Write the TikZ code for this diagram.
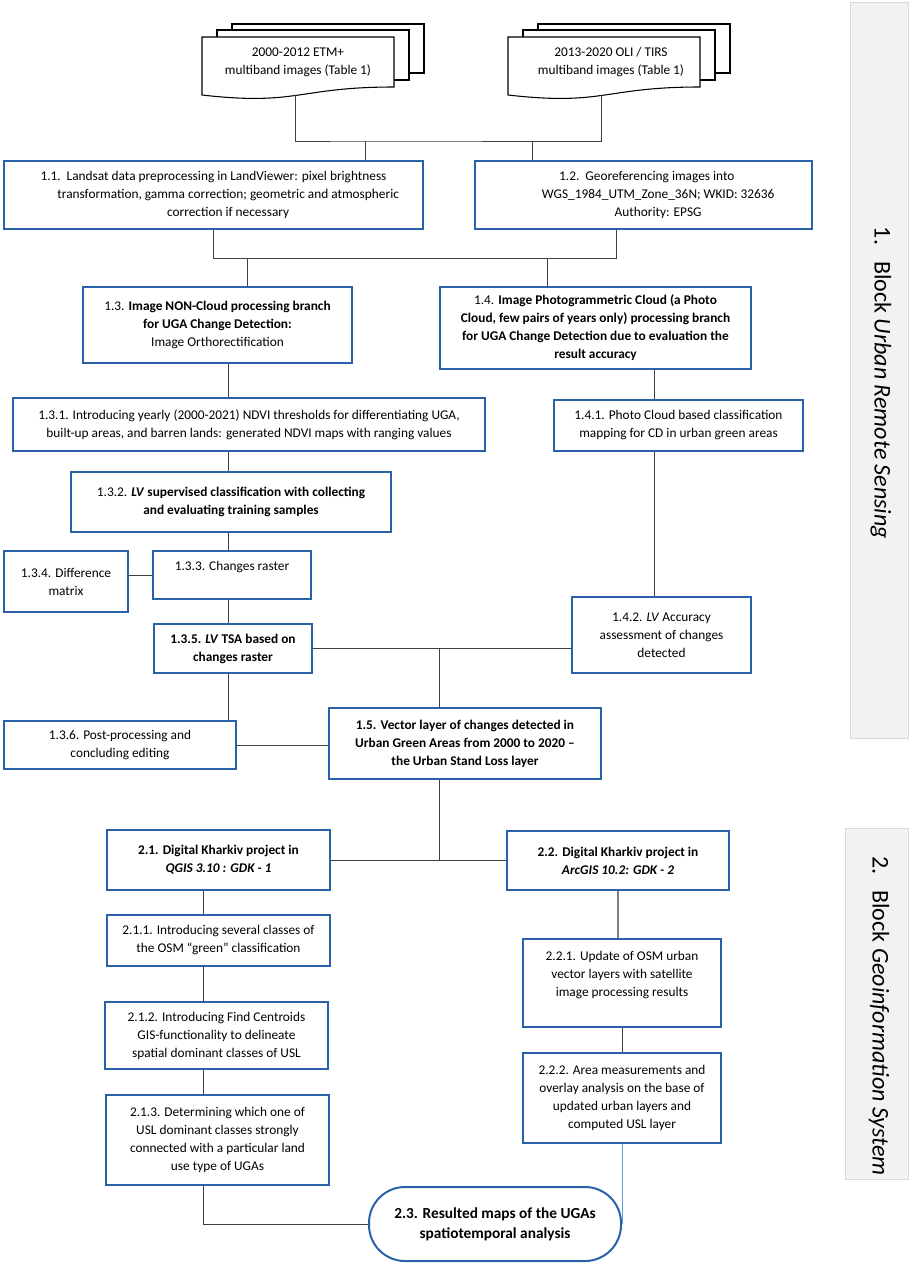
\documentclass[tikz,border=0pt]{standalone}
\usepackage{fontspec}
\setmainfont{Carlito}
\definecolor{boxblue}{RGB}{41,98,168}
\definecolor{linegray}{RGB}{64,64,64}
\definecolor{midgray}{RGB}{127,127,127}
\definecolor{lightblue}{RGB}{91,155,213}

\begin{document}
\begin{tikzpicture}[x=0.75pt,y=-0.75pt,
font=\fontsize{10}{13.5}\selectfont,
blk/.style 2 args={
	rectangle,draw=boxblue,line width=1.5pt,fill=white,
	align=center,inner sep=1pt,
	minimum width=#1*0.75pt,minimum height=#2*0.75pt},
term/.style={
	rectangle,rounded corners=27pt,draw=boxblue,line width=1.5pt,fill=white,
	align=center,minimum width=252*0.75pt,minimum height=74*0.75pt,
	font=\fontsize{11.5}{15}\selectfont\bfseries},
link/.style={draw=linegray,line width=0.75pt},
sheet/.style={draw=black,line width=0.8pt,fill=white},
doctext/.style={align=center},
panel/.style={draw=black!15,fill=black!5,line width=0.75pt},
paneltext/.style={rotate=-90,font=\fontsize{18}{20}\selectfont},
multidoc/.pic={
	\draw[sheet] (30,-13) rectangle (222,36);
	\draw[sheet] (15,-7) rectangle (207,43);
	\draw[sheet] (0,0) -- (192,0) -- (192,50) .. controls (96,50) and (96,69) .. (0,58) -- cycle;
	\coordinate (-out) at (93,58);
},
]
\useasboundingbox (0,0) rectangle (913,1263);

% side blocks
\draw[panel] (850,3) rectangle (908,738);
\draw[panel] (845,828) rectangle (908,1179);
\node[paneltext] (lab1) at (881,383) {1.\hspace{12pt}Block \textit{Urban Remote Sensing}};
\node[paneltext] (lab2) at (879,1016) {2.\hspace{12pt}Block \textit{Geoinformation System}};

% input images
\pic (img1) at (202,37) {multidoc};
\pic (img2) at (508,37) {multidoc};
\node[doctext] (doc1) at (298,62) {2000-2012 ETM+\\multiband images (Table 1)};
\node[doctext] (doc2) at (611,62) {2013-2020 OLI / TIRS\\multiband images (Table 1)};

% block 1
\node[blk={419}{68}] (b11) at (213.5,195) {1.1.\hspace{4.5pt}Landsat data preprocessing in LandViewer: pixel brightness\\
\hspace*{22pt}transformation, gamma correction; geometric and atmospheric\\
\hspace*{22pt}correction if necessary};
\node[blk={337}{68}] (b12) at (643.5,195) {\hspace*{5pt}1.2.\hspace{4.5pt}Georeferencing images into\\
\hspace*{22pt}WGS\_1984\_UTM\_Zone\_36N; WKID: 32636\\
\hspace*{22pt}Authority: EPSG};
\node[blk={269}{76}] (b13) at (217.5,325) {1.3. \textbf{Image NON-Cloud processing branch}\\
\textbf{for UGA Change Detection:}\\Image Orthorectification};
\node[blk={311}{82}] (b14) at (595.5,328) {1.4. \textbf{Image Photogrammetric Cloud (a Photo}\\
\textbf{Cloud, few pairs of years only) processing branch}\\
\textbf{for UGA Change Detection due to evaluation the}\\
\textbf{result accuracy}};
\node[blk={472}{53}] (b131) at (249,424.5) {1.3.1. Introducing yearly (2000-2021) NDVI thresholds for differentiating UGA,\\
built-up areas, and barren lands: generated NDVI maps with ranging values};
\node[blk={249}{51}] (b141) at (678.5,425.5) {1.4.1. Photo Cloud based classification\\mapping for CD in urban green areas};
\node[blk={320}{60}] (b132) at (231,502) {1.3.2. \textbf{\textit{LV} supervised classification with collecting}\\
\textbf{and evaluating training samples}};
\node[blk={158}{48}] (b133) at (232,575) {1.3.3. Changes raster\\\mbox{}};
\node[blk={124}{61}] (b134) at (66,581.5) {1.3.4. Difference\\matrix};
\node[blk={158}{49}] (b135) at (233,648.5) {\textbf{1.3.5. \textit{LV} TSA based on}\\\textbf{changes raster}};
\node[blk={179}{76}] (b142) at (661.5,635) {1.4.2. \textit{LV} Accuracy\\assessment of changes\\detected};
\node[blk={232}{48}] (b136) at (120,745) {1.3.6. Post-processing and\\concluding editing};
\node[blk={272}{71}] (b15) at (465,743.5) {\textbf{1.5. Vector layer of changes detected in}\\
\textbf{Urban Green Areas from 2000 to 2020 --}\\\textbf{the Urban Stand Loss layer}};

% block 2
\node[blk={223}{60}] (b21) at (218.5,860) {\textbf{2.1. Digital Kharkiv project in}\\\textbf{\textit{QGIS 3.10 : GDK - 1}}};
\node[blk={222}{59}] (b22) at (618,860.5) {\textbf{2.2. Digital Kharkiv project in}\\\textbf{\textit{ArcGIS 10.2: GDK - 2}}};
\node[blk={223}{51}] (b211) at (218.5,940.5) {2.1.1. Introducing several classes of\\the OSM “green” classification};
\node[blk={223}{67}] (b212) at (216.5,1035.5) {2.1.2. Introducing Find Centroids\\GIS-functionality to delineate\\spatial dominant classes of USL};
\node[blk={223}{90}] (b213) at (217.5,1140) {2.1.3. Determining which one of\\USL dominant classes strongly\\connected with a particular land\\use type of UGAs};
\node[blk={198}{88}] (b221) at (622,983) {2.2.1. Update of OSM urban\\vector layers with satellite\\image processing results\\\mbox{}};
\node[blk={198}{90}] (b222) at (622,1098) {2.2.2. Area measurements and\\overlay analysis on the base of\\updated urban layers and\\computed USL layer};
\node[term] (t23) at (495,1224) {2.3. Resulted maps of the UGAs\\spatiotemporal analysis};

% joints
\coordinate (colA) at (228,0);
\coordinate (colB) at (439,0);
\coordinate (colC) at (654,0);
\coordinate (colD) at (203,0);
\coordinate (j1a) at (365,141);
\coordinate (j1b) at (532,141);
\coordinate (j2b) at (616,258);
\coordinate (j2c) at (247,258);
\coordinate (j2d) at (547,258);

% connectors
\draw[link] (img1-out) |- (j1a) -- (j1a -| img2-out) -- (img2-out);
\draw[link] (j1a) -- (j1a |- b11.north);
\draw[link] (j1b) -- (j1b |- b12.north);
\draw[link] (b11.south) |- (j2b) -- (j2b |- b12.south);
\draw[link] (j2c) -- (j2c |- b13.north);
\draw[link] (j2d) -- (j2d |- b14.north);
\draw[link] (b13.south -| colA) -- (b131.north -| colA);
\draw[link] (b131.south -| colA) -- (b132.north -| colA);
\draw[link] (b132.south -| colA) -- (b133.north -| colA);
\draw[link] (b133.south -| colA) -- (b135.north -| colA);
\draw[link] (b135.south -| colA) -- (b136.north -| colA);
\draw[link] (b133.west) -- (b133.west -| b134.east);
\draw[link] (b14.south -| colC) -- (b141.north -| colC);
\draw[link] (b141.south -| colC) -- (b142.north -| colC);
\draw[link] (b135.east) -- (b135.east -| b142.west);
\draw[link] (b135.east -| colB) -- (b15.north -| colB);
\draw[link] (b136.east) -- (b136.east -| b15.west);
\draw[link] (b15.south -| colB) -- (b21.east -| colB);
\draw[link] (b21.east) -- (b21.east -| b22.west);
\draw[link] (b21.south -| colD) -- (b211.north -| colD);
\draw[link] (b211.south -| colD) -- (b212.north -| colD);
\draw[link] (b212.south -| colD) -- (b213.north -| colD);
\draw[link] (b213.south -| colD) |- (t23.west);
\draw[draw=midgray,line width=1.5pt] (b22.south) -- (b22.south |- b221.north);
\draw[link] (b221.south) -- (b222.north);
\draw[draw=lightblue,line width=0.75pt] (b222.south) -- (b222.south |- t23.east);
\end{tikzpicture}
\end{document}
